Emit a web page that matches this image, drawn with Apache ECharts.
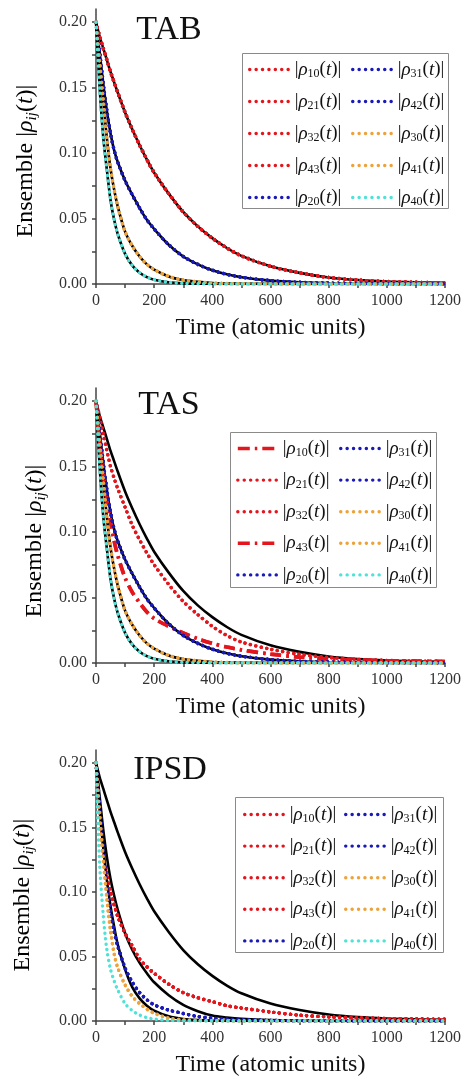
<!DOCTYPE html>
<html>
<head>
<meta charset="utf-8">
<script src="https://cdn.jsdelivr.net/npm/echarts@6/dist/echarts.min.js"></script>
<style>
  html, body { margin: 0; padding: 0; background: #fff; }
  #chart { width: 464px; height: 1078px; }
</style>
</head>
<body>
<div id="chart"></div>
<script>
// Sampling times (atomic units)
const times = [0, 12.5, 25, 37.5, 50, 62.5, 75, 100, 125, 150, 175, 200, 250, 300, 350, 400, 450, 500, 600, 700, 800, 900, 1000, 1100, 1200];

// Reference (solid black) decay curves
const slowFit   = [0.200, 0.189, 0.180, 0.171, 0.162, 0.154, 0.146, 0.131, 0.118, 0.106, 0.095, 0.085, 0.069, 0.055, 0.044, 0.035, 0.0275, 0.0215, 0.0135, 0.0085, 0.0050, 0.0030, 0.0019, 0.0013, 0.0009];
const midFit    = [0.200, 0.177, 0.153, 0.132, 0.115, 0.102, 0.093, 0.079, 0.068, 0.058, 0.049, 0.042, 0.030, 0.021, 0.015, 0.0105, 0.0074, 0.0052, 0.0026, 0.0013, 0.0007, 0.0004, 0.0002, 0.0001, 0.0001];
const orangeFit = [0.200, 0.169, 0.140, 0.111, 0.088, 0.072, 0.059, 0.040, 0.029, 0.021, 0.015, 0.011, 0.0058, 0.0030, 0.0016, 0.0008, 0.0004, 0.0002, 0.0001, 0, 0, 0, 0, 0, 0];
const cyanFit   = [0.200, 0.150, 0.112, 0.087, 0.064, 0.049, 0.038, 0.023, 0.014, 0.0086, 0.0053, 0.0033, 0.0013, 0.0005, 0.0002, 0.0001, 0, 0, 0, 0, 0, 0, 0, 0, 0];
const ipsdMidFit = [0.200, 0.174, 0.148, 0.127, 0.110, 0.097, 0.086, 0.068, 0.055, 0.045, 0.037, 0.030, 0.020, 0.0125, 0.0076, 0.0042, 0.0027, 0.0017, 0.0007, 0.0003, 0.0001, 0, 0, 0, 0];
const ipsdLowFit = [0.200, 0.164, 0.134, 0.109, 0.089, 0.073, 0.059, 0.040, 0.026, 0.0175, 0.0118, 0.0080, 0.0036, 0.0016, 0.0007, 0.0003, 0.0001, 0, 0, 0, 0, 0, 0, 0, 0];

// Ensemble coherences
const tabRed  = slowFit;
const tabBlue = midFit;
const tabOrange = orangeFit;
const tabCyan = cyanFit;
const tasDashDot = [0.200, 0.170, 0.146, 0.125, 0.108, 0.093, 0.082, 0.065, 0.054, 0.046, 0.039, 0.034, 0.028, 0.023, 0.0185, 0.015, 0.0122, 0.0100, 0.0068, 0.0045, 0.0030, 0.0022, 0.0017, 0.0014, 0.0012];
const tasDotted  = [0.200, 0.188, 0.175, 0.162, 0.150, 0.141, 0.133, 0.119, 0.105, 0.094, 0.084, 0.075, 0.060, 0.047, 0.037, 0.028, 0.021, 0.016, 0.0105, 0.0066, 0.0042, 0.0028, 0.0020, 0.0015, 0.0012];
const ipsdRed    = [0.200, 0.160, 0.130, 0.113, 0.100, 0.090, 0.081, 0.068, 0.058, 0.048, 0.042, 0.037, 0.0285, 0.022, 0.018, 0.015, 0.0118, 0.0100, 0.0070, 0.0045, 0.0032, 0.0024, 0.0019, 0.0016, 0.0013];
const ipsdBlue   = [0.200, 0.168, 0.133, 0.104, 0.084, 0.069, 0.058, 0.041, 0.030, 0.022, 0.0165, 0.0125, 0.0085, 0.0058, 0.0035, 0.0022, 0.0014, 0.0009, 0.0004, 0.0002, 0.0001, 0, 0, 0, 0];
const ipsdOrange = [0.200, 0.160, 0.125, 0.095, 0.070, 0.052, 0.041, 0.028, 0.019, 0.0135, 0.0092, 0.0060, 0.0022, 0.0009, 0.0004, 0.0002, 0.0001, 0, 0, 0, 0, 0, 0, 0, 0];
const ipsdCyan   = [0.200, 0.122, 0.082, 0.055, 0.040, 0.031, 0.024, 0.0135, 0.0080, 0.0046, 0.0026, 0.0015, 0.0005, 0.0002, 0.0001, 0, 0, 0, 0, 0, 0, 0, 0, 0, 0];

// Axis ticks
const xLabelTicks = [0, 200, 400, 600, 800, 1000, 1200];
const xTickMarks  = [0, 100, 200, 300, 400, 500, 600, 700, 800, 900, 1000, 1100, 1200];
const yLabelTicks = [0, 0.05, 0.10, 0.15, 0.20];
const yTickMarks  = [0, 0.025, 0.05, 0.075, 0.10, 0.125, 0.15, 0.175, 0.20];

// Legend order: first column then second column
const legendCol1 = ['10', '21', '32', '43', '20'];
const legendCol2 = ['31', '42', '30', '41', '40'];

const FONT = '"Liberation Serif", "Times New Roman", serif';
const RED = '#e3161d', BLUE = '#1a1ab8', ORANGE = '#eea23a', CYAN = '#4fe3d8';

const dotted = c => ({ color: c, width: 3.4, type: [0.1, 5.4], cap: 'round', legendType: [0.1, 6.3] });
const dashDot = c => ({ color: c, width: 3.6, type: [11, 5, 2.5, 5], cap: 'butt', legendType: [12, 5, 2.5, 5] });

const panels = [
  {
    key: 'TAB',
    fits: [slowFit, midFit, orangeFit, cyanFit],
    curves: {
      '10': [tabRed, dotted(RED)], '21': [tabRed, dotted(RED)], '32': [tabRed, dotted(RED)], '43': [tabRed, dotted(RED)],
      '20': [tabBlue, dotted(BLUE)], '31': [tabBlue, dotted(BLUE)], '42': [tabBlue, dotted(BLUE)],
      '30': [tabOrange, dotted(ORANGE)], '41': [tabOrange, dotted(ORANGE)], '40': [tabCyan, dotted(CYAN)]
    },
    grid: { top: 9 },
    title: [169, 30],
    yName: [26, 161],
    box: [242, 53, 206, 155],
    legend: { top: 59, gap: 11, col1: 248, col2: 351 }
  },
  {
    key: 'TAS',
    fits: [slowFit, midFit, orangeFit, cyanFit],
    curves: {
      '10': [tasDashDot, dashDot(RED)], '21': [tasDotted, dotted(RED)], '32': [tasDotted, dotted(RED)], '43': [tasDashDot, dashDot(RED)],
      '20': [tabBlue, dotted(BLUE)], '31': [tabBlue, dotted(BLUE)], '42': [tabBlue, dotted(BLUE)],
      '30': [tabOrange, dotted(ORANGE)], '41': [tabOrange, dotted(ORANGE)], '40': [tabCyan, dotted(CYAN)]
    },
    grid: { top: 388 },
    title: [169, 405],
    yName: [35, 541],
    box: [230, 432, 206, 155],
    legend: { top: 438, gap: 10.6, col1: 236, col2: 339 }
  },
  {
    key: 'IPSD',
    fits: [slowFit, ipsdMidFit, ipsdLowFit],
    curves: {
      '10': [ipsdRed, dotted(RED)], '21': [ipsdRed, dotted(RED)], '32': [ipsdRed, dotted(RED)], '43': [ipsdRed, dotted(RED)],
      '20': [ipsdBlue, dotted(BLUE)], '31': [ipsdBlue, dotted(BLUE)], '42': [ipsdBlue, dotted(BLUE)],
      '30': [ipsdOrange, dotted(ORANGE)], '41': [ipsdOrange, dotted(ORANGE)], '40': [ipsdCyan, dotted(CYAN)]
    },
    grid: { top: 750 },
    title: [170, 770],
    yName: [23, 895],
    box: [235, 797, 208, 155],
    legend: { top: 804, gap: 10.6, col1: 243, col2: 344 }
  }
];

const pairs = vals => times.map((t, i) => [t, vals[i]]);

const legendRich = {
  b: { fontFamily: FONT, fontSize: 19, color: '#111', lineHeight: 20 },
  r: { fontFamily: FONT, fontSize: 19, fontStyle: 'italic', color: '#111', lineHeight: 20 },
  s: { fontFamily: FONT, fontSize: 12, color: '#111', lineHeight: 12, padding: [9, 0, 0, 0] }
};
const nameRich = {
  n: { fontFamily: FONT, fontSize: 24, color: '#111', lineHeight: 26 },
  r: { fontFamily: FONT, fontSize: 24, fontStyle: 'italic', color: '#111', lineHeight: 26 },
  s: { fontFamily: FONT, fontSize: 15, fontStyle: 'italic', color: '#111', lineHeight: 15, padding: [12, 0, 0, 0] }
};

const axisLineStyle = { color: '#444', width: 1.5 };
const grids = [], xAxes = [], yAxes = [], series = [], legends = [], graphics = [];

panels.forEach((p, gi) => {
  grids.push({ left: 96, width: 350, top: p.grid.top, height: 275 });

  xAxes.push({
    gridIndex: gi, type: 'value', min: 0, max: 1200, interval: 200,
    axisLine: { show: true, onZero: false, lineStyle: axisLineStyle },
    axisTick: { show: true, length: 4, customValues: xTickMarks, lineStyle: axisLineStyle },
    axisLabel: { customValues: xLabelTicks, formatter: v => String(v), fontFamily: FONT, fontSize: 16, color: '#333', margin: 9 },
    splitLine: { show: false },
    name: 'Time (atomic units)', nameLocation: 'middle', nameGap: 32,
    nameTextStyle: { fontFamily: FONT, fontSize: 24, color: '#111' }
  });

  yAxes.push({
    gridIndex: gi, type: 'value', min: 0, max: 0.21,
    axisLine: { show: true, onZero: false, lineStyle: axisLineStyle },
    axisTick: { show: true, length: 4, customValues: yTickMarks, lineStyle: axisLineStyle },
    axisLabel: { customValues: yLabelTicks, formatter: v => v.toFixed(2), fontFamily: FONT, fontSize: 16, color: '#333', margin: 9 },
    splitLine: { show: false }
  });

  // solid black reference curves underneath
  p.fits.forEach((f, k) => {
    series.push({
      type: 'line', name: p.key + ' reference ' + k, xAxisIndex: gi, yAxisIndex: gi,
      data: pairs(f), symbol: 'none', smooth: 0.3,
      lineStyle: { color: '#000', width: 2.6 }, z: 2, silent: true
    });
  });

  // coloured ensemble curves on top
  legendCol1.concat(legendCol2).forEach(sub => {
    const [vals, ls] = p.curves[sub];
    series.push({
      type: 'line', name: p.key + '-' + sub, xAxisIndex: gi, yAxisIndex: gi,
      data: pairs(vals), symbol: 'none', smooth: 0.3,
      color: ls.color,
      lineStyle: { color: ls.color, width: ls.width, type: ls.type, cap: ls.cap },
      z: 3, silent: true
    });
  });

  [[legendCol1, p.legend.col1], [legendCol2, p.legend.col2]].forEach(([subs, left]) => {
    legends.push({
      orient: 'vertical', left: left, top: p.legend.top, padding: 0,
      itemWidth: 40, itemHeight: 20, itemGap: p.legend.gap,
      selectedMode: false,
      itemStyle: { color: 'rgba(0,0,0,0)', borderColor: 'rgba(0,0,0,0)', borderWidth: 0 },
      data: subs.map(s => {
        const ls = p.curves[s][1];
        return {
          name: p.key + '-' + s,
          lineStyle: { color: ls.color, width: ls.width, type: ls.legendType, cap: ls.cap }
        };
      }),
      formatter: name => '{b||}{r|ρ}{s|' + name.split('-')[1] + '}{b|(}{r|t}{b|)|}',
      textStyle: { rich: legendRich }
    });
  });

  const [bx, by, bw, bh] = p.box;
  graphics.push({
    type: 'rect', z: 1, silent: true,
    shape: { x: bx + 0.5, y: by + 0.5, width: bw, height: bh },
    style: { fill: '#fff', stroke: '#8a8a8a', lineWidth: 1 }
  });

  graphics.push({
    type: 'text', x: p.title[0], y: p.title[1], silent: true,
    style: {
      text: p.key, font: '34px ' + FONT, fill: '#111',
      align: 'center', verticalAlign: 'middle', textAlign: 'center', textVerticalAlign: 'middle'
    }
  });

  graphics.push({
    type: 'text', x: p.yName[0], y: p.yName[1], rotation: Math.PI / 2, silent: true,
    style: {
      text: '{n|Ensemble |}{r|ρ}{s|ij}{n|(}{r|t}{n|)|}', rich: nameRich,
      align: 'center', verticalAlign: 'middle', textAlign: 'center', textVerticalAlign: 'middle'
    }
  });
});

const chart = echarts.init(document.getElementById('chart'), null, { renderer: 'canvas' });
chart.setOption({
  animation: false,
  backgroundColor: '#fff',
  grid: grids,
  xAxis: xAxes,
  yAxis: yAxes,
  legend: legends,
  graphic: { elements: graphics },
  series: series
});
</script>
</body>
</html>
